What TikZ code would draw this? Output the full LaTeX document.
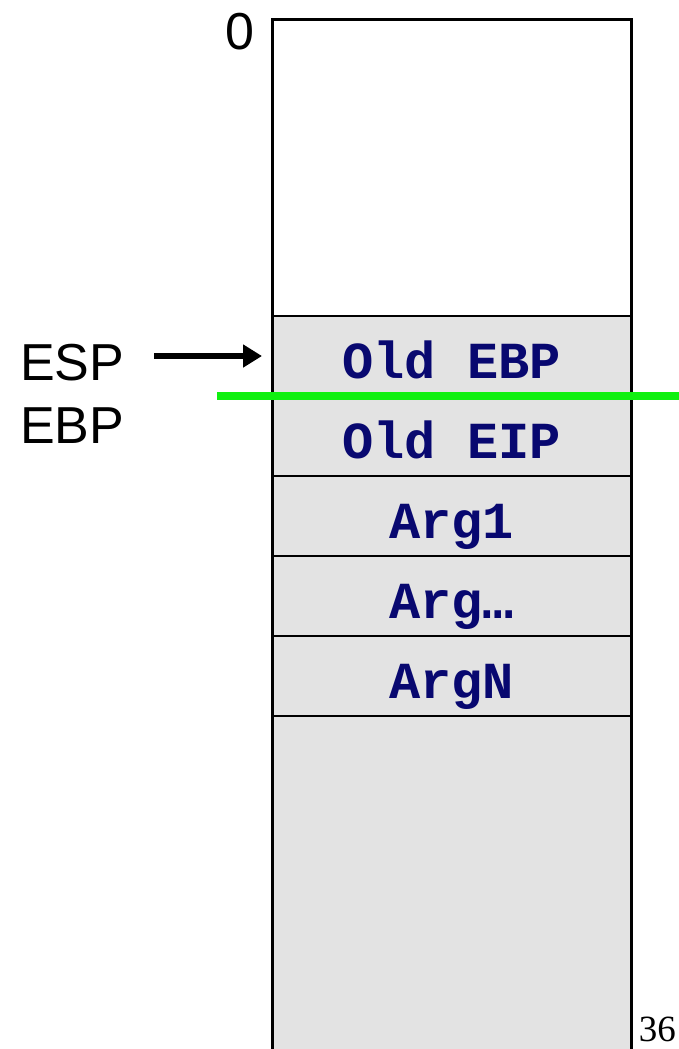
\documentclass[tikz,border=0pt]{standalone}
\usepackage{fontspec}
\setmainfont{Liberation Serif}
\setsansfont{Liberation Sans}
\setmonofont{Liberation Mono}
\usepackage{tikz}
\usetikzlibrary{arrows.meta,positioning}

\definecolor{cellgray}{RGB}{227,227,227}
\definecolor{regnavy}{RGB}{8,8,112}
\definecolor{ebpgreen}{RGB}{16,240,16}

\tikzset{
	cell/.style={draw, fill=cellgray, line width=2pt, minimum width=359pt, minimum height=80pt,
		inner sep=0pt, outer sep=0pt, text height=44pt, text depth=0pt,
		font=\ttfamily\bfseries\fontsize{52}{60}\selectfont, text=regnavy},
	reglabel/.style={inner sep=0pt, font=\sffamily\fontsize{52}{60}\selectfont},
	ptr/.style={-{Triangle[length=19pt,width=22pt]}, line width=5.5pt},
	ebpline/.style={ebpgreen, line width=8pt}
}

\begin{document}
\begin{tikzpicture}[x=1pt,y=-1pt]
		\useasboundingbox (0,0) rectangle (679,1049);
		
		% Stack body
		\fill[cellgray] (272,316) rectangle (631,1070);
		\fill[white] (272,20) rectangle (631,316);
		\draw[line width=2pt] (272,316) -- (631,316);
		
		% Frames
		\node[cell] (oldebp) at (451.5,356) {Old EBP};
		\node[cell, below=0pt of oldebp] (oldeip) {Old EIP};
		\node[cell, below=0pt of oldeip] (arg1) {Arg1};
		\node[cell, below=0pt of arg1] (argdots) {Arg…};
		\node[cell, below=0pt of argdots] (argn) {ArgN};
		
		% Outline
		\draw[line width=3pt] (272,1070) -- (272,20) -- (631,20) -- (631,1070);
		
		% Labels
		\node[reglabel, anchor=base east] (zero) at (255,50) {0};
		\node[reglabel, anchor=base west] (esp) at (20,380) {ESP};
		\node[reglabel, anchor=base west] (ebp) at (20,443) {EBP};
		\node[inner sep=0pt, anchor=base east, font=\rmfamily\fontsize{37}{44}\selectfont] (page) at (676,1041) {36};
		
		% Pointers
		\draw[ptr, shorten <=30pt, shorten >=10pt] (esp.east |- oldebp.west) -- (oldebp.west);
		\draw[ebpline] ([xshift=-55pt]oldebp.south west) -- ([xshift=48pt]oldebp.south east);
		
	\end{tikzpicture}
\end{document}
